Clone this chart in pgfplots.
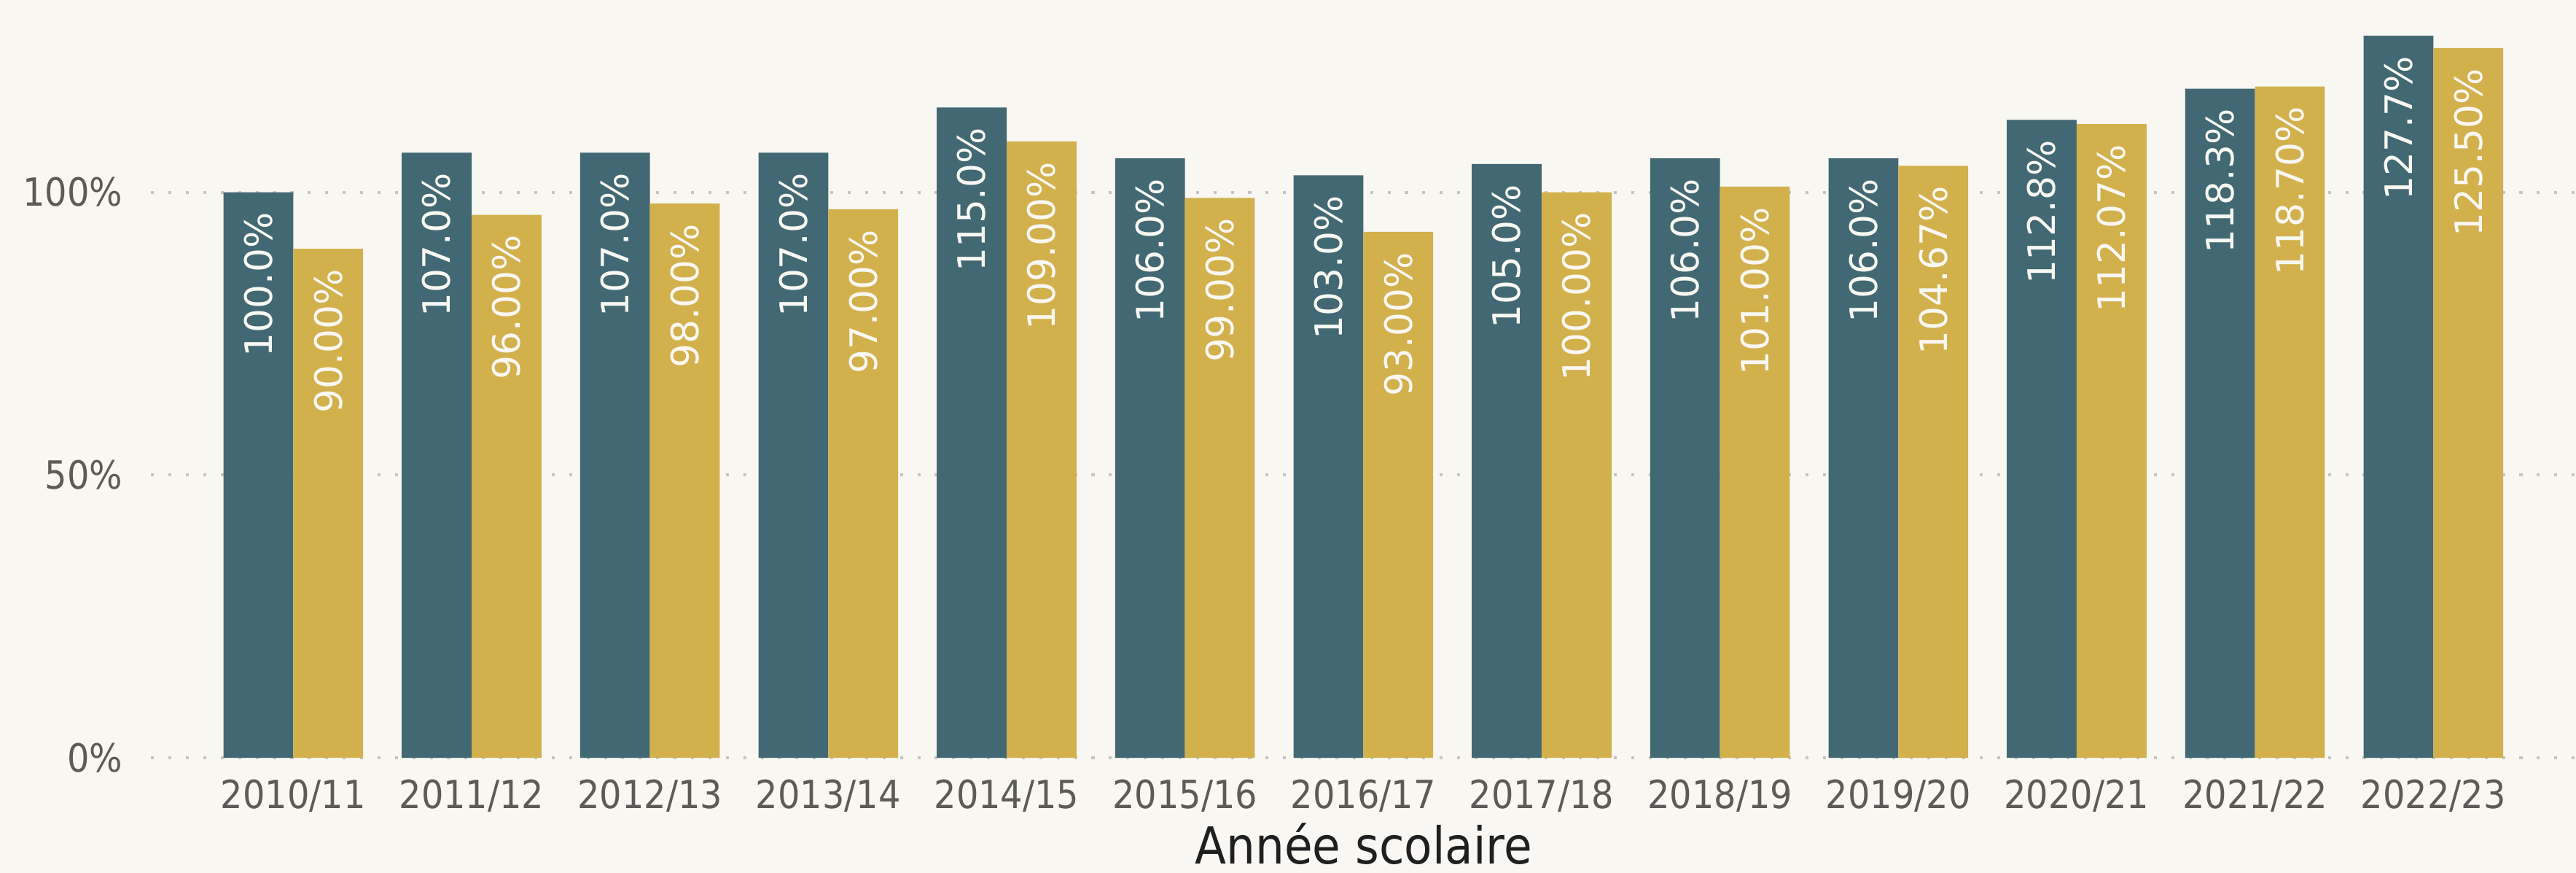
\documentclass[border=0pt]{standalone}
\usepackage{fontspec}
\setmainfont{DejaVu Sans}
\newfontfamily\condfont{DejaVu Sans}[FakeStretch=0.9]
\usepackage{pgfplots}
\pgfplotsset{compat=1.18}

\definecolor{bgcol}{HTML}{F8F7F2}
\definecolor{teal}{HTML}{426873}
\definecolor{gold}{HTML}{D2B04C}
\definecolor{ticktext}{HTML}{5C5B57}
\definecolor{gridcol}{HTML}{C4C3BF}

\begin{document}
\begin{tikzpicture}
\fill[bgcol] (-46pt,-35pt) rectangle (738pt,230.5pt);
\begin{axis}[
    name=ax,
    at={(0pt,0pt)}, anchor=south west,
    scale only axis,
    width=738pt, height=230.5pt,
    xmin=-0.797, xmax=12.80,
    ymin=0, ymax=134,
    ybar=0pt,
    bar width=21.25pt,
    axis line style={draw=none},
    major tick length=0pt,
    xtick={0,...,12},
    xticklabels={2010/11,2011/12,2012/13,2013/14,2014/15,2015/16,2016/17,2017/18,2018/19,2019/20,2020/21,2021/22,2022/23},
    ytick={0,50,100},
    yticklabels={0\%,50\%,100\%},
    ymajorgrids,
    grid style={gridcol, line width=0.9pt, dash pattern=on 0.9pt off 4.4pt},
    xticklabel style={font=\condfont\fontsize{11.8}{13}\selectfont, text=ticktext, inner sep=0pt, yshift=-6.5pt},
    yticklabel style={font=\condfont\fontsize{11.8}{13}\selectfont, text=ticktext, inner sep=0pt, xshift=-8.5pt},
    xlabel={Année scolaire},
    xlabel style={font=\condfont\fontsize{15.5}{17}\selectfont, text=black!88, at={(axis description cs:0.5,0)}, anchor=base, yshift=-32.3pt, inner sep=0pt},
    point meta=explicit symbolic,
    nodes near coords,
    every node near coord/.append style={rotate=90, anchor=east, font=\fontsize{11.5}{13}\selectfont, text=bgcol, inner xsep=6pt, inner ysep=0pt},
]
\addplot[fill=teal, draw=none] coordinates {
    (0,100.0) [100.0\%]
    (1,107.0) [107.0\%]
    (2,107.0) [107.0\%]
    (3,107.0) [107.0\%]
    (4,115.0) [115.0\%]
    (5,106.0) [106.0\%]
    (6,103.0) [103.0\%]
    (7,105.0) [105.0\%]
    (8,106.0) [106.0\%]
    (9,106.0) [106.0\%]
    (10,112.8) [112.8\%]
    (11,118.3) [118.3\%]
    (12,127.7) [127.7\%]
};
\addplot[fill=gold, draw=none] coordinates {
    (0,90.00) [90.00\%]
    (1,96.00) [96.00\%]
    (2,98.00) [98.00\%]
    (3,97.00) [97.00\%]
    (4,109.00) [109.00\%]
    (5,99.00) [99.00\%]
    (6,93.00) [93.00\%]
    (7,100.00) [100.00\%]
    (8,101.00) [101.00\%]
    (9,104.67) [104.67\%]
    (10,112.07) [112.07\%]
    (11,118.70) [118.70\%]
    (12,125.50) [125.50\%]
};
\end{axis}
\pgfresetboundingbox
\path[use as bounding box] (-46pt,-35pt) rectangle (738pt,230.5pt);
\end{tikzpicture}
\end{document}
